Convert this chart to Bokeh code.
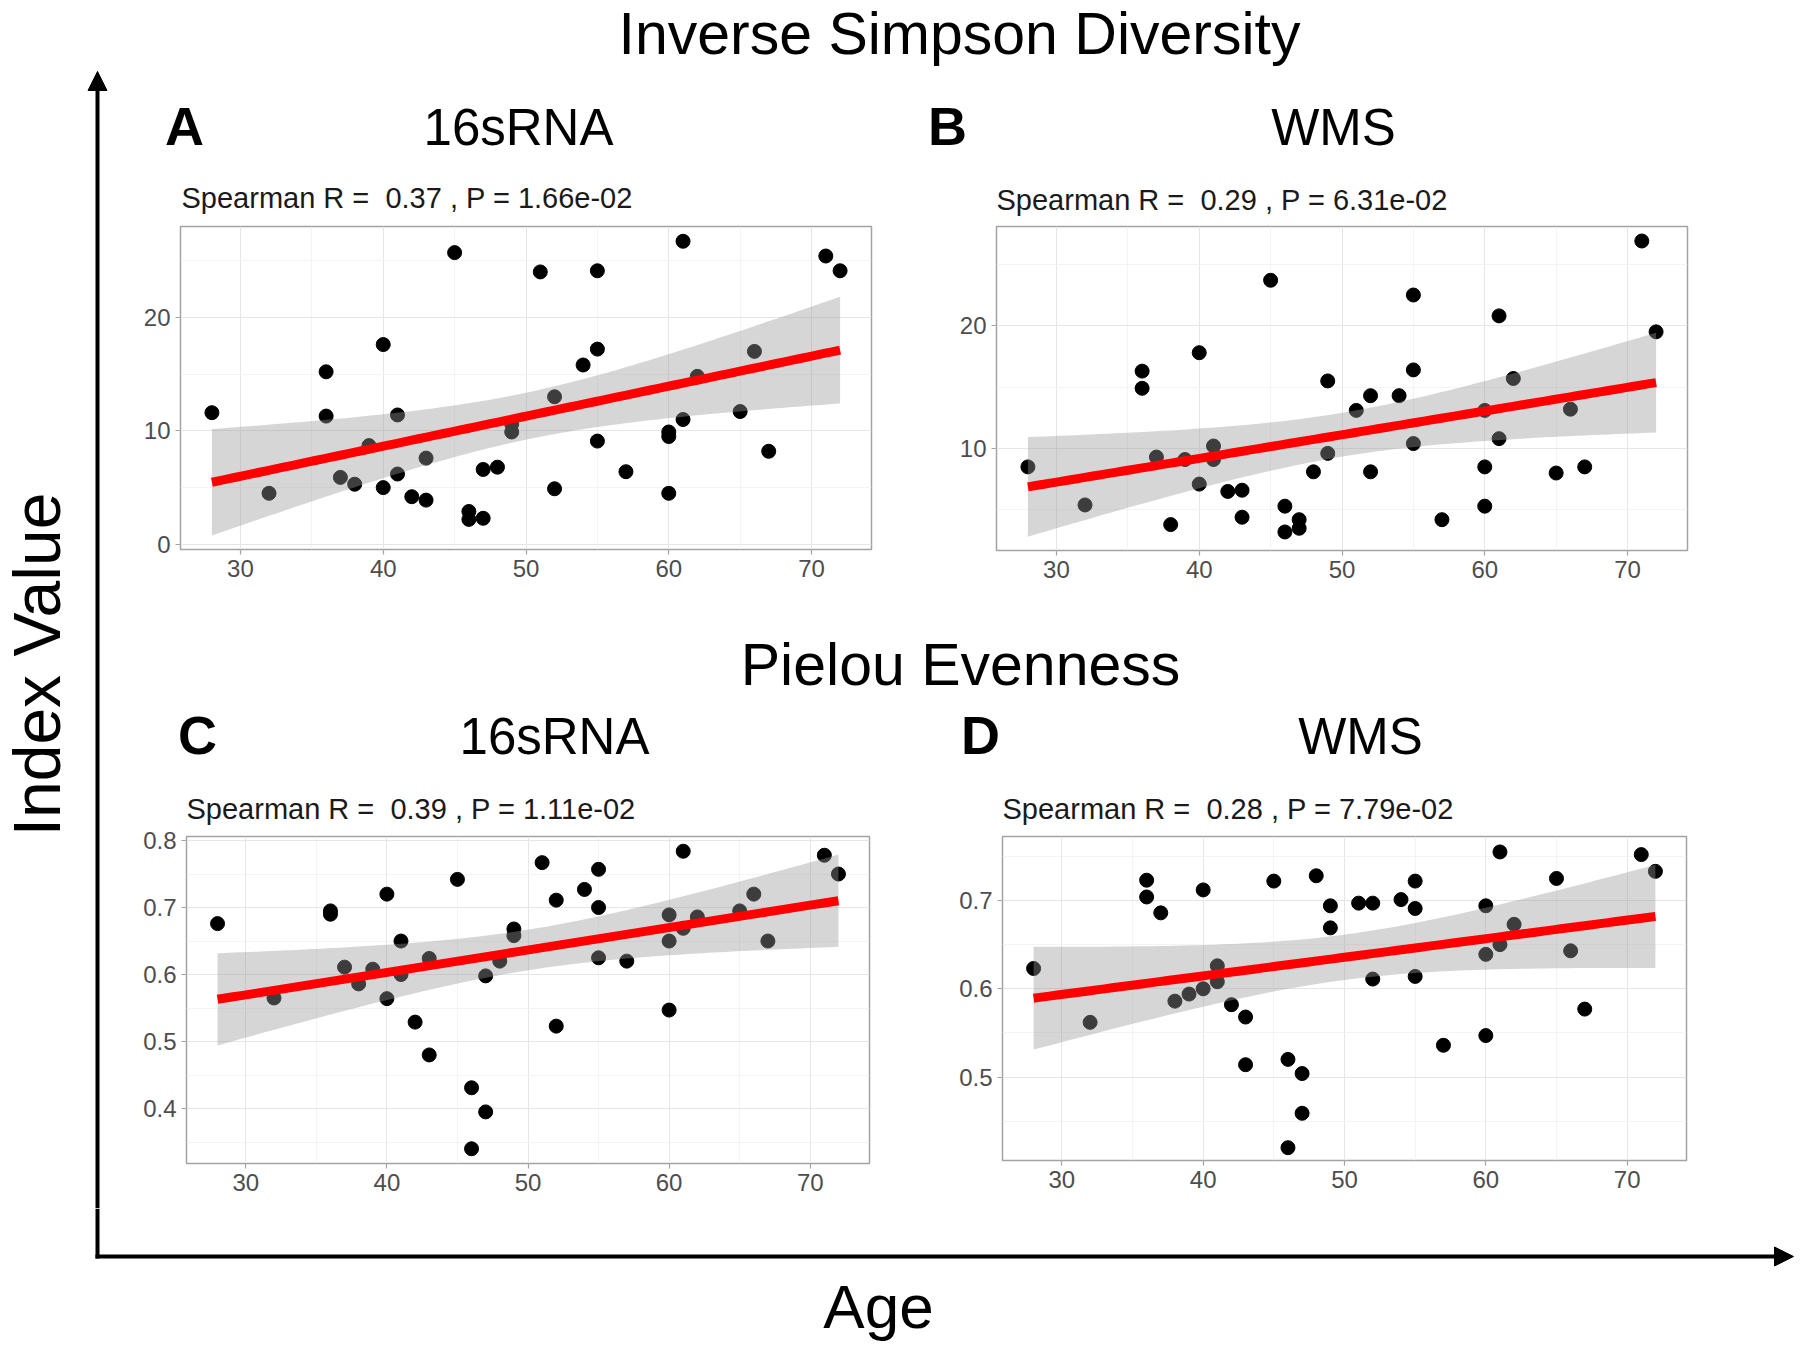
import numpy as np
from bokeh.plotting import figure
from bokeh.layouts import column, row
from bokeh.models import Range1d, FixedTicker, PrintfTickFormatter, Arrow, NormalHead
from bokeh.core.properties import value
from bokeh.embed import file_html
from bokeh.resources import INLINE

FONT = value("Liberation Sans")

# ---------------- data ----------------
ages = [28, 32, 36, 36, 37, 38, 39, 40, 40, 41, 41, 42, 43, 43, 45, 46, 46, 47, 47, 48, 49,
        49, 51, 52, 52, 54, 55, 55, 55, 57, 60, 60, 60, 61, 61, 62, 65, 66, 67, 71, 72]
invsimpson_16s = [11.6, 4.5, 15.2, 11.3, 5.9, 5.3, 8.7, 17.6, 5.0, 11.4, 6.2, 4.2, 7.6, 3.9, 25.7,
                  2.9, 2.2, 6.6, 2.3, 6.8, 10.6, 9.9, 24.0, 13.0, 4.9, 15.8, 24.1, 17.2, 9.1, 6.4,
                  9.9, 9.5, 4.5, 26.7, 11.0, 14.8, 11.7, 17.0, 8.2, 25.4, 24.1]
invsimpson_wms = [8.5, 5.4, 16.3, 14.9, 9.3, 3.8, 9.1, 17.8, 7.1, 10.2, 9.1, 6.5, 6.6, 4.4, 23.7,
                  5.3, 3.2, 4.2, 3.5, 8.1, 15.5, 9.6, 13.1, 14.3, 8.1, 14.3, 22.5, 16.4, 10.4, 4.2,
                  13.1, 8.5, 5.3, 20.8, 10.8, 15.7, 8.0, 13.2, 8.5, 26.9, 19.5]
pielou_16s = [0.676, 0.565, 0.695, 0.690, 0.611, 0.586, 0.608, 0.720, 0.564, 0.650, 0.600, 0.529,
              0.624, 0.480, 0.742, 0.431, 0.340, 0.598, 0.395, 0.620, 0.668, 0.658, 0.767, 0.711,
              0.523, 0.727, 0.757, 0.700, 0.625, 0.620, 0.689, 0.650, 0.547, 0.784, 0.669, 0.686,
              0.695, 0.720, 0.650, 0.778, 0.750]
pielou_wms = [0.623, 0.562, 0.723, 0.704, 0.686, 0.586, 0.594, 0.712, 0.600, 0.626, 0.608, 0.582,
              0.568, 0.514, 0.722, 0.520, 0.420, 0.504, 0.459, 0.728, 0.694, 0.669, 0.697, 0.697,
              0.611, 0.701, 0.722, 0.691, 0.614, 0.536, 0.694, 0.639, 0.547, 0.755, 0.650, 0.673,
              0.725, 0.643, 0.577, 0.752, 0.733]

x_ticks = [30, 40, 50, 60, 70]
x_minor = [35, 45, 55, 65]
y_ticks_inv_16s = [0, 10, 20]
y_ticks_inv_wms = [10, 20]
y_ticks_pie_16s = [0.4, 0.5, 0.6, 0.7, 0.8]
y_ticks_pie_wms = [0.5, 0.6, 0.7]
y_minor_inv = [5, 15, 25]
y_minor_pie = [0.35, 0.45, 0.55, 0.65, 0.75]

NB = "\u00a0"
stats_text = ["Spearman R = " + NB + "0.37 , P = 1.66e-02",
              "Spearman R = " + NB + "0.29 , P = 6.31e-02",
              "Spearman R = " + NB + "0.39 , P = 1.11e-02",
              "Spearman R = " + NB + "0.28 , P = 7.79e-02"]
panel_letters = ["A", "B", "C", "D"]
panel_titles = ["16sRNA", "WMS", "16sRNA", "WMS"]
main_titles = ["Inverse Simpson Diversity", "Pielou Evenness"]
axis_titles = ["Index Value", "Age"]

T_CRIT = 2.0227  # t(0.975, df=39)
BASE_SHIFT = 0.36  # compensation of the drawn baseline, in em


def canvas(w, h):
    c = figure(width=w, height=h, x_range=Range1d(0, w), y_range=Range1d(0, h),
               output_backend="svg", toolbar_location=None, min_border=0, title=None)
    c.axis.visible = False
    c.grid.visible = False
    c.outline_line_color = None
    return c


def txt(c, x, y, s, size, align="left", style="normal", color="black", angle=0.0):
    if angle == 0.0:
        y = y + BASE_SHIFT * size
    else:
        x = x - BASE_SHIFT * size
    c.text(x=[x], y=[y], text=[s], text_font=FONT, text_font_size=f"{size}px",
           text_align=align, text_baseline="alphabetic", text_font_style=style,
           text_color=color, angle=angle)


def panel(x, y, yr, yticks, yminor, fmt, bl, br, bt, bb, fw, fh):
    p = figure(frame_width=fw, frame_height=fh, min_border_left=bl, min_border_right=br,
               min_border_top=bt, min_border_bottom=bb, title=None,
               x_range=Range1d(25.8, 74.2), y_range=Range1d(*yr),
               output_backend="svg", toolbar_location=None)
    p.outline_line_color = "#a3a3a3"
    p.outline_line_width = 1.5
    p.xaxis.ticker = FixedTicker(ticks=x_ticks, minor_ticks=x_minor)
    p.yaxis.ticker = FixedTicker(ticks=yticks, minor_ticks=yminor)
    p.yaxis.formatter = PrintfTickFormatter(format=fmt)
    for ax in (p.xaxis, p.yaxis):
        ax.axis_line_color = None
        ax.major_tick_line_color = "#a3a3a3"
        ax.major_tick_line_width = 1.2
        ax.major_tick_out = 5
        ax.major_tick_in = 0
        ax.minor_tick_line_color = None
        ax.major_label_text_font = "Liberation Sans"
        ax.major_label_text_font_size = "24px"
        ax.major_label_text_color = "#4d4d4d"
        ax.major_label_standoff = 5
    p.grid.grid_line_color = "#e6e6e6"
    p.grid.grid_line_width = 1
    p.grid.minor_grid_line_color = "#f1f1f1"
    p.grid.minor_grid_line_width = 0.8

    xa = np.array(x, float)
    ya = np.array(y, float)
    n = len(xa)
    b, a = np.polyfit(xa, ya, 1)
    resid = ya - (a + b * xa)
    s = np.sqrt(np.sum(resid ** 2) / (n - 2))
    sxx = np.sum((xa - xa.mean()) ** 2)
    xs = np.linspace(xa.min(), xa.max(), 80)
    yh = a + b * xs
    se = s * np.sqrt(1.0 / n + (xs - xa.mean()) ** 2 / sxx)

    p.scatter(xa, ya, size=14, fill_color="black", line_color="black")
    p.varea(x=xs, y1=yh - T_CRIT * se, y2=yh + T_CRIT * se, fill_color="#999999", fill_alpha=0.4)
    p.line(xs, yh, line_color="#ff0000", line_width=9)
    return p


# ---------------- panels ----------------
pA = panel(ages, invsimpson_16s, (-0.45, 28.0), y_ticks_inv_16s, y_minor_inv, "%d",
           52, 49, 7, 60, 691, 323)
pB = panel(ages, invsimpson_wms, (1.69, 28.08), y_ticks_inv_wms, y_minor_inv, "%d",
           76, 113, 8, 58, 691, 324)
pC = panel(ages, pielou_16s, (0.318, 0.806), y_ticks_pie_16s, y_minor_pie, "%.1f",
           58, 51, 10, 45, 683, 327)
pD = panel(ages, pielou_wms, (0.4055, 0.7725), y_ticks_pie_wms, y_minor_pie, "%.1f",
           82, 114, 10, 48, 684, 324)

# ---------------- header bands ----------------
band1 = canvas(1672, 218)
txt(band1, 831, 163, main_titles[0], 59, align="center")
txt(band1, 56, 73, panel_letters[0], 54, align="center", style="bold")
txt(band1, 390, 73, panel_titles[0], 51, align="center")
txt(band1, 819, 73, panel_letters[1], 54, align="center", style="bold")
txt(band1, 1205, 73, panel_titles[1], 51, align="center")
txt(band1, 53, 10, stats_text[0], 29, color="#1a1a1a")
txt(band1, 868, 8, stats_text[1], 29, color="#1a1a1a")

band2 = canvas(1672, 218)
txt(band2, 832, 140, main_titles[1], 59, align="center")
txt(band2, 69, 72, panel_letters[2], 54, align="center", style="bold")
txt(band2, 426, 72, panel_titles[2], 51, align="center")
txt(band2, 852, 72, panel_letters[3], 54, align="center", style="bold")
txt(band2, 1232, 72, panel_titles[3], 51, align="center")
txt(band2, 58, 7, stats_text[2], 29, color="#1a1a1a")
txt(band2, 874, 7, stats_text[3], 29, color="#1a1a1a")

# ---------------- left axis strip ----------------
left = canvas(128, 1208)
left.add_layout(Arrow(end=NormalHead(size=19, fill_color="black", line_color="black"),
                      x_start=97, y_start=0, x_end=97, y_end=1137,
                      line_width=4, line_color="black"))
txt(left, 60, 544, axis_titles[0], 66, align="center", angle=np.pi / 2)

# ---------------- bottom axis strip ----------------
bottom = canvas(1800, 142)
bottom.line([97, 97], [142, 92], line_width=4, line_color="black")
bottom.add_layout(Arrow(end=NormalHead(size=19, fill_color="black", line_color="black"),
                        x_start=95, y_start=94, x_end=1793, y_end=94,
                        line_width=4, line_color="black"))
txt(bottom, 878, 22, axis_titles[1], 62, align="center")

right = column(band1, row(pA, pB), band2, row(pC, pD))
page = column(row(left, right), bottom)

open("out.html", "w").write(file_html(page, INLINE))
